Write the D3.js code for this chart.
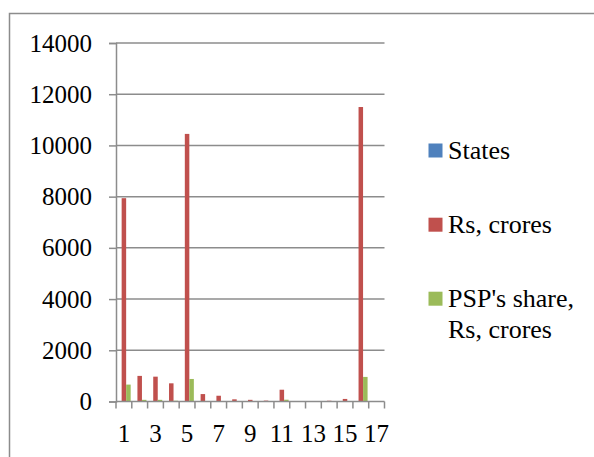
<!DOCTYPE html>
<html>
<head>
<meta charset="utf-8">
<script src="https://cdn.jsdelivr.net/npm/d3@7"></script>
<style>
  body { margin: 0; background: #fff; }
</style>
</head>
<body>
<svg id="chart" width="594" height="457"></svg>
<script>
const categories = d3.range(1, 18).map(String)
const seriesNames = ['States', 'Rs, crores', "PSP's share, Rs, crores"]
const states = [0, 0, 0, 0, 0, 0, 0, 0, 0, 0, 0, 0, 0, 0, 0, 0, 0]
const rsCrores = [7940, 1000, 970, 710, 10450, 290, 225, 85, 65, 35, 460, 0, 0, 30, 100, 11500, 0]
const pspShare = [660, 65, 65, 30, 880, 20, 15, 5, 5, 3, 70, 0, 0, 2, 7, 960, 0]
const yTicks = [0, 2000, 4000, 6000, 8000, 10000, 12000, 14000]
const colors = ['#4F81BD', '#C0504D', '#9BBB59']

const svg = d3.select('#chart')
const margin = { top: 43, left: 116, bottom: 55.5, right: 209.5 }
const width = +svg.attr('width') - margin.left - margin.right
const height = +svg.attr('height') - margin.top - margin.bottom
const grey = '#8c8c8c'
const font = 'Liberation Serif'

// outer chart frame (right/bottom edges are cut off in the picture)
svg.append('rect').attr('x', 9.5).attr('y', 13.5).attr('width', 600).attr('height', 460)
  .attr('fill', 'none').attr('stroke', grey).attr('stroke-width', 1.5)

const g = svg.append('g').attr('transform', `translate(${margin.left},${margin.top})`)

const x = d3.scaleBand().domain(categories).range([0, width]).paddingInner(0).paddingOuter(0)
const x1 = d3.scaleBand().domain(d3.range(3)).range([0, x.bandwidth()]).paddingInner(0).paddingOuter(0.25)
const y = d3.scaleLinear().domain([0, 14000]).range([height, 0])

// gridlines
g.append('g').selectAll('line').data(yTicks.slice(1)).join('line')
  .attr('x1', 0).attr('x2', width)
  .attr('y1', d => y(d)).attr('y2', d => y(d))
  .attr('stroke', grey).attr('stroke-width', 1.5)

const yAxis = d3.axisLeft(y).tickValues(yTicks).tickSize(7).tickPadding(17).tickFormat(d3.format('d'))
const yAxisEl = g.append('g').call(yAxis).attr('font-family', font).attr('font-size', 25)
yAxisEl.select('.domain').attr('stroke', grey).attr('stroke-width', 1.5)
yAxisEl.selectAll('.tick line').attr('stroke', grey).attr('stroke-width', 1.5)
yAxisEl.selectAll('.tick text').attr('fill', '#000')

// bars
const series = [states, rsCrores, pspShare]
series.forEach((vals, si) => {
  g.append('g').selectAll('rect').data(vals).join('rect')
    .attr('x', (d, i) => x(categories[i]) + x1(si))
    .attr('width', x1.bandwidth())
    .attr('y', d => y(d))
    .attr('height', d => y(0) - y(d))
    .attr('fill', colors[si])
})

// x axis with ticks at category boundaries, labels on odd categories
const xAxisEl = g.append('g').attr('transform', `translate(0,${height})`)
xAxisEl.append('line').attr('x1', 0).attr('x2', width).attr('stroke', grey).attr('stroke-width', 1.5)
xAxisEl.selectAll('.bound').data(d3.range(categories.length + 1)).join('line')
  .attr('x1', i => i * x.step()).attr('x2', i => i * x.step())
  .attr('y1', 0).attr('y2', 7)
  .attr('stroke', grey).attr('stroke-width', 1.5)
xAxisEl.selectAll('text').data(categories.filter((c, i) => i % 2 === 0)).join('text')
  .attr('x', d => x(d) + x.bandwidth() / 2)
  .attr('y', 40.5)
  .attr('text-anchor', 'middle')
  .attr('font-family', font)
  .attr('font-size', 25)
  .text(d => d)

// legend
const legendRows = [
  { lines: ['States'], base: 158.5 },
  { lines: ['Rs, crores'], base: 232.7 },
  { lines: ["PSP's share,", 'Rs, crores'], base: 306.7 }
]
const legend = svg.append('g')
legendRows.forEach((row, i) => {
  legend.append('rect').attr('x', 428.5).attr('y', row.base - 15).attr('width', 14).attr('height', 14).attr('fill', colors[i])
  const t = legend.append('text').attr('x', 448).attr('y', row.base)
    .attr('font-family', font).attr('font-size', 26)
  row.lines.forEach((l, k) => t.append('tspan').attr('x', 448).attr('dy', k === 0 ? 0 : 31.6).text(l))
})
</script>
</body>
</html>
